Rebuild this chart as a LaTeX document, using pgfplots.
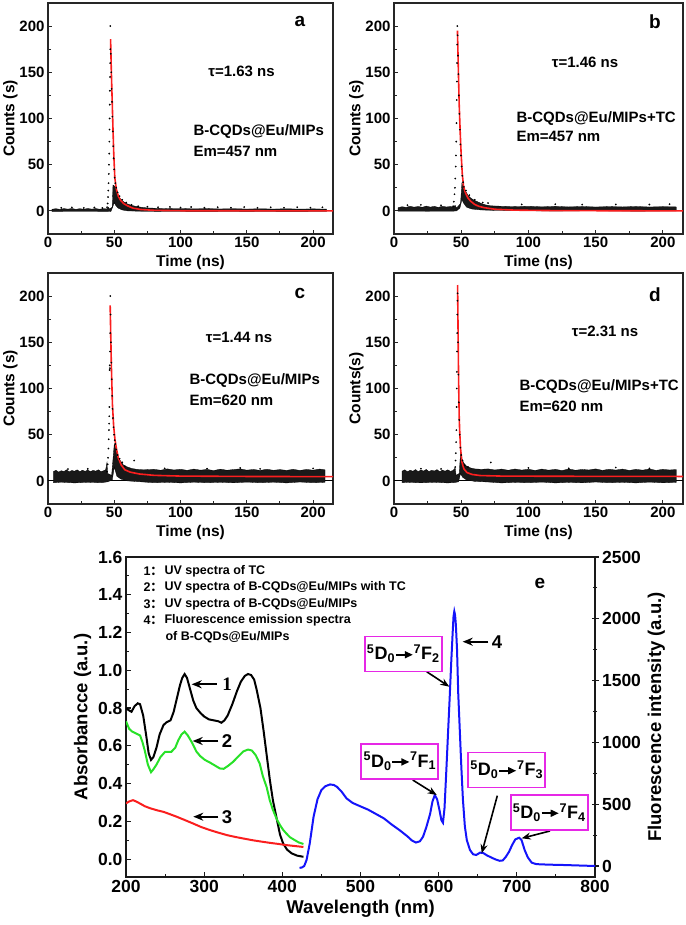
\documentclass[border=0pt]{standalone}
\usepackage{fontspec}
\setmainfont{Liberation Sans}
\newfontfamily\seriffont{Liberation Serif}
\newfontfamily\cjk{Noto Sans CJK SC}
\usepackage{pgfplots}
\pgfplotsset{compat=1.18}
\usetikzlibrary{arrows.meta}

\definecolor{mag}{RGB}{230,40,230}
\definecolor{fitred}{RGB}{250,30,30}
\definecolor{uvgreen}{RGB}{40,225,40}
\definecolor{flblue}{RGB}{20,20,250}

\newcommand{\trarr}{\tikz[baseline=-0.55ex]\draw[line width=1.6pt,-{Triangle[length=8pt,width=7pt]}] (0,0) -- (17pt,0);}
\newcommand{\trans}[1]{\textsuperscript{5}D\textsubscript{0}\trarr\textsuperscript{7}F\textsubscript{#1}}

\pgfplotsset{
  decay/.style={
    scale only axis, anchor=south west, height=231pt,
    xmin=0, xmax=215, ymin=-25, ymax=225,
    xtick={0,50,...,200}, ytick={0,50,...,200}, minor tick num=1,
    tick align=inside, xtick pos=bottom, ytick pos=left,
    axis line style={line width=1.6pt, black!85},
    major tick length=4pt, minor tick length=2.5pt,
    tick style={black!85, line width=1pt},
    tick label style={font=\fontsize{15}{16}\selectfont\bfseries},
    /pgf/number format/assume math mode=true,
    label style={font=\fontsize{15.5}{17}\selectfont\bfseries},
    xlabel={Time (ns)}, ylabel={Counts (s)}, ylabel shift=-5pt,
  },
  noise/.style={fill=black!90, draw=black, line width=0.3pt},
  dots/.style={only marks, mark=*, mark size=0.65pt, black},
  fit/.style={fitred, line width=1.6pt, no marks},
}

\begin{document}
\begin{tikzpicture}
\useasboundingbox (0,0) rectangle (685pt,925pt);

% ---------- a ----------
\begin{axis}[decay, at={(48pt,691pt)}, width=285pt]
\addplot[noise] coordinates {(3,1.8)(6,2.4)(9,1.6)(12,2.5)(15,1.9)(18,2.6)(21,1.7)(24,2.4)(27,1.8)(30,2.6)(33,1.9)(36,2.5)(39,1.8)(42,2.4)(44.5,2.2)(45.5,4)(46.2,2)(48.5,4)(49,28)(50,27)(51,25)(52,21)(53,17)(54,14)(56,11)(58,9)(60,7.5)(63,6)(66,5)(70,4)(75,3.2)(82,2.8)(90,2.4)(100,2.6)(110,2.2)(120,2.5)(130,2.1)(140,2.4)(150,2)(160,2.3)(170,2)(180,2.3)(190,1.9)(200,2.2)(210,1.9)
 (210,-0.6)(180,-0.5)(150,-0.7)(120,-0.5)(90,-0.6)(70,-0.4)(60,0)(56,1)(53,3)(51,6)(50,9)(49,5)(47.5,-0.5)(45,-0.7)(25,-0.6)(3,-0.7)} -- cycle;
\addplot[dots] coordinates {(44.6,4)(45,8)(45.3,15)(45.5,22)(45.7,30)(45.9,40)(46,50)(46.2,62)(46.3,75)(46.4,88)(46.5,100)(46.6,115)(46.7,130)(46.8,145)(46.9,160)(47,175)(47,200)(47.4,170)(47.7,150)(48,132)(48.3,118)(48.6,102)(48.9,86)(49.2,70)(49.5,57)(49.9,45)(50.3,36)(50.8,30)(51.5,25)(52.5,20)(54,16)(56,12)(59,9)(63,6.5)(68,5)(75,4.5)(83,4)(92,4.3)(100,3.6)(108,4.2)(118,3.5)(128,4)(138,3.4)(148,4.1)(158,3.3)(168,3.9)(178,3.4)(188,4)(198,3.5)(207,3.9)(10,3.3)(18,3.8)(27,3.2)(35,3.7)(41,3.1)};
\addplot[fit] coordinates {(47.2,186)(47.8,150)(48.4,120)(49.0,90)(49.6,62)(50.4,36)(51.5,24)(53,16)(54.5,12)(57,8)(60,5.5)(64,3)(70,1.5)(80,0.6)(100,0.2)(215,0)};
\end{axis}

% ---------- b ----------
\begin{axis}[decay, at={(394pt,691pt)}, width=289pt]
\addplot[noise] coordinates {(3,3.5)(6,4.5)(9,3.8)(12,5)(15,4)(18,4.8)(21,3.9)(24,5.2)(27,4.1)(30,4.9)(33,3.8)(36,5)(39,4.2)(42,4.8)(44,4)(45.5,6)(46.5,3)(49.5,8)(50.5,30)(51.5,26)(53,22)(55,17)(57,14)(59,12)(62,10)(65,8)(68,6.5)(72,5.5)(80,5)(90,4.6)(100,5)(110,4.4)(120,4.9)(130,4.3)(140,4.8)(150,4.2)(160,4.7)(170,4.3)(180,4.8)(190,4.2)(200,4.6)(210,4.3)
 (210,0)(180,-0.3)(150,0.2)(120,-0.2)(90,0.3)(75,0.5)(65,1)(58,2)(54,4)(52,8)(50.5,12)(49,3)(46.5,0)(44,-0.3)(25,-0.4)(3,-0.3)} -- cycle;
\addplot[dots] coordinates {(44,5)(44.5,10)(45,18)(45.3,25)(45.6,35)(45.9,48)(46.1,60)(46.3,75)(46.5,95)(46.7,120)(46.8,140)(46.9,160)(47,180)(47.1,200)(47.3,190)(47.6,168)(47.9,148)(48.2,125)(48.6,105)(49,88)(49.4,72)(49.8,60)(50.3,48)(50.8,38)(51.4,31)(52,26)(53.5,22)(56,17)(60,12)(66,9)(70,8.5)(95,7)(120,7.2)(140,6.8)(165,7)(190,6.9)(205,7.3)(20,6.5)(35,6)(10,6.2)};
\addplot[fit] coordinates {(47.2,195)(47.6,170)(48,145)(48.5,115)(49.3,83)(50,60)(50.8,40)(51.7,27)(53,20)(55,14)(57,10.5)(60,7)(63,5)(67,3.5)(75,1.8)(90,0.8)(120,0.3)(215,0)};
\end{axis}

% ---------- c ----------
\begin{axis}[decay, at={(48pt,421pt)}, width=285pt]
\addplot[black, line width=1pt] coordinates {(0,0)(215,0)};
\addplot[noise] coordinates {(4,10)(6,11.5)(8,9.5)(10,11)(12,10.2)(14,12)(16,9.8)(18,11.3)(20,10.4)(22,12)(24,9.9)(26,11.6)(28,10.3)(30,11.8)(32,10)(34,11.4)(36,10.5)(38,12)(40,10)(42,11)(43.5,12)(44.5,20)(45,8)(48,6)(50,40)(51,36)(52,30)(53,25)(55,21)(57,17)(60,15)(63,13.5)(67,12.5)(72,12)(80,12.5)(85,11.5)(90,13)(95,11.8)(100,12.6)(105,11.4)(110,12.8)(115,11.6)(120,12.4)(125,11.2)(130,12.7)(135,11.5)(140,12.3)(145,13)(150,11.6)(155,12.4)(160,11.3)(165,12.6)(170,11.5)(175,12.2)(180,11.4)(185,12.5)(190,11.3)(195,12.4)(200,11.6)(205,12.8)(209,12)
 (209,-1.5)(200,-2)(190,-1.2)(180,-2.2)(170,-1.4)(160,-2)(150,-1.3)(140,-2.1)(130,-1.5)(120,-2)(110,-1.4)(100,-2.2)(90,-1.5)(80,-2)(70,-1)(60,0)(55,2)(52,5)(50,15)(48.5,1)(45,-1)(40,-2)(30,-1.5)(20,-2.2)(10,-1.4)(4,-2)} -- cycle;
\addplot[dots] coordinates {(44.5,10)(45,18)(45.3,25)(45.6,35)(45.8,45)(46,55)(46.1,62)(46.2,70)(46.3,80)(46.4,100)(46.5,120)(46.6,125)(46.7,122)(46.8,140)(46.9,160)(47,200)(47.2,180)(47.5,150)(47.8,128)(48.1,110)(48.4,92)(48.7,78)(49,68)(49.4,58)(49.8,50)(50.3,44)(50.8,40)(51.5,34)(52.5,28)(54,24)(56,20)(58,16)(65,22)(88,13.5)(120,13.2)(145,14)(160,13)(200,13.5)(30,13)(15,12.8)};
\addplot[fit] coordinates {(46.9,190)(47.3,160)(47.8,125)(48.6,83)(49.5,60)(50.5,45)(51.6,35)(53,25)(55.3,17)(58,12)(62,9.5)(68.8,7.5)(80,6)(100,5.2)(150,4.8)(215,4.6)};
\end{axis}

% ---------- d ----------
\begin{axis}[decay, at={(394pt,421pt)}, width=289pt, ylabel={Counts(s)}]
\addplot[black, line width=1pt] coordinates {(0,0)(215,0)};
\addplot[noise] coordinates {(6,10.5)(8,12)(10,9.8)(12,11.6)(14,10.4)(16,12.3)(18,10)(20,11.8)(22,10.6)(24,12.4)(26,10.1)(28,11.5)(30,10.7)(32,12.2)(34,9.9)(36,11.7)(38,10.5)(40,12)(42,10.3)(44,11.4)(45.5,14)(46.2,6)(48.5,8)(49.5,30)(50.5,24)(52,19)(54,16)(57,14)(60,13)(65,12.5)(70,13)(75,11.8)(80,12.8)(85,11.5)(90,12.9)(95,11.7)(100,12.6)(105,11.3)(110,12.8)(115,11.6)(120,12.5)(125,11.2)(130,12.9)(135,11.5)(140,12.4)(145,11.8)(150,13)(155,11.4)(160,12.6)(165,11.7)(170,12.8)(175,11.3)(180,12.5)(185,11.6)(190,12.9)(195,11.4)(200,12.5)(205,11.8)(210,12.3)
 (210,-1.6)(200,-2.1)(190,-1.3)(180,-2.2)(170,-1.5)(160,-2)(150,-1.2)(140,-2.1)(130,-1.6)(120,-2.2)(110,-1.3)(100,-2)(90,-1.6)(80,-2.2)(70,-1.2)(60,-0.5)(54,1)(51,4)(49.5,8)(48,-1)(45,-1.8)(40,-2.2)(30,-1.5)(20,-2.1)(10,-1.5)(6,-2)} -- cycle;
\addplot[dots] coordinates {(45.5,15)(45.8,22)(46,30)(46.2,42)(46.4,55)(46.6,80)(46.7,100)(46.8,118)(46.9,140)(47,160)(47.1,180)(47.2,195)(47.3,203)(47.6,150)(47.9,115)(48.2,85)(48.5,66)(48.9,50)(49.4,36)(50,28)(51,22)(52.5,17)(55,15)(72,20)(100,14)(130,13.5)(165,14.5)(190,13.5)(20,13.2)(35,13)};
\addplot[fit] coordinates {(47.3,212)(47.6,170)(47.9,130)(48.2,95)(48.5,70)(48.8,56)(49.5,35)(50.6,20)(52,13)(54.3,9)(58,7)(64,5.8)(80,5.2)(120,5)(215,4.8)};
\end{axis}

% ---------- e ----------
\begin{axis}[scale only axis, anchor=south west, at={(126pt,48pt)},
  width=469pt, height=320pt,
  xmin=200, xmax=800, ymin=-0.095, ymax=1.6,
  xtick={200,300,...,800}, ytick={0,0.2,0.4,0.6,0.8,1.0,1.2,1.4,1.6},
  minor tick num=1, tick align=inside, xtick pos=bottom, ytick pos=left,
  axis line style={line width=1.9pt, black!90},
  major tick length=5pt, minor tick length=3pt,
  tick style={black!90, line width=1.1pt},
  tick label style={font=\fontsize{17.5}{18}\selectfont\bfseries},
  yticklabel style={/pgf/number format/.cd, fixed, fixed zerofill, precision=1},
  /pgf/number format/assume math mode=true,
  label style={font=\fontsize{18.5}{20}\selectfont\bfseries},
  xlabel={Wavelength (nm)}, ylabel={Absorbancce (a.u.)},
]
\addplot[black, line width=2pt] coordinates {(200,0.80)(203,0.79)(207,0.78)(211,0.81)(215,0.825)(218,0.82)(222,0.76)(226,0.65)(229,0.56)(232,0.525)(235,0.54)(239,0.59)(243,0.66)(248,0.71)(252,0.725)(257,0.735)(261,0.78)(265,0.85)(269,0.92)(272,0.96)(275,0.98)(278,0.96)(282,0.90)(286,0.84)(290,0.80)(295,0.775)(300,0.755)(306,0.74)(312,0.735)(318,0.73)(322,0.722)(326,0.735)(330,0.76)(336,0.82)(342,0.89)(347,0.94)(352,0.97)(356,0.98)(360,0.975)(364,0.95)(367,0.90)(372,0.80)(376,0.68)(380,0.55)(384,0.42)(388,0.31)(393,0.21)(397,0.13)(401,0.083)(406,0.05)(412,0.03)(419,0.018)(427,0.012)};
\addplot[uvgreen, line width=2pt] coordinates {(200,0.73)(204,0.69)(208,0.675)(213,0.665)(218,0.655)(221,0.62)(224,0.575)(228,0.50)(232,0.46)(235,0.475)(239,0.50)(244,0.54)(250,0.568)(258,0.568)(263,0.59)(267,0.63)(271,0.66)(275,0.675)(279,0.655)(284,0.62)(290,0.57)(295,0.545)(301,0.525)(307,0.512)(314,0.495)(320,0.48)(325,0.478)(331,0.495)(337,0.515)(344,0.545)(350,0.57)(356,0.58)(361,0.575)(366,0.55)(371,0.506)(375,0.44)(380,0.38)(384,0.31)(388,0.26)(393,0.21)(397,0.18)(401,0.155)(405,0.136)(410,0.115)(416,0.10)(421,0.088)(427,0.08)};
\addplot[fitred, line width=2pt] coordinates {(200,0.295)(204,0.305)(209,0.312)(213,0.305)(218,0.294)(224,0.28)(231,0.269)(240,0.258)(248,0.25)(256,0.238)(265,0.224)(275,0.207)(286,0.188)(296,0.17)(307,0.154)(318,0.14)(329,0.127)(340,0.117)(350,0.109)(363,0.099)(374,0.092)(384,0.086)(395,0.08)(405,0.074)(416,0.069)(427,0.064)};
\end{axis}

\begin{axis}[scale only axis, anchor=south west, at={(126pt,48pt)},
  width=469pt, height=320pt,
  xmin=200, xmax=800, ymin=-89, ymax=2500,
  axis x line=none, axis y line*=right,
  ytick={0,500,...,2500}, minor tick num=1, tick align=center,
  scaled y ticks=false,
  yticklabel style={/pgf/number format/1000 sep={}},
  axis line style={line width=1.9pt, black!90},
  major tick length=7pt, minor tick length=4pt,
  tick style={black!90, line width=1.1pt},
  tick label style={font=\fontsize{17.5}{18}\selectfont\bfseries},
  /pgf/number format/assume math mode=true,
  label style={font=\fontsize{18.5}{20}\selectfont\bfseries},
  ylabel={Fluorescence intensity (a.u.)},
]
\addplot[flblue, line width=2pt] coordinates {(422,-15)(425,-12)(428,0)(431,49)(435,180)(440,400)(445,540)(450,615)(455,645)(461,660)(466,655)(470,640)(476,600)(482,548)(490,510)(499,485)(510,455)(520,420)(530,385)(540,335)(550,290)(560,240)(566,205)(571,190)(576,200)(580,237)(584,310)(589,420)(592,520)(595,574)(598,540)(601,453)(603.5,370)(605.5,350)(607.5,470)(610,800)(612,1080)(614,1350)(616,1640)(618,1900)(619,2020)(620,2060)(621,2030)(622,1950)(623.5,1750)(625,1400)(627,1100)(629,800)(631,540)(633.5,320)(636,210)(640,130)(644,95)(648,89)(653,108)(657,105)(662,85)(667,70)(672,55)(678,42)(682,45)(686,75)(690,115)(694,170)(698,215)(703,229)(706,210)(710,129)(714,70)(719,27)(725,15)(740,11)(760,8)(780,4)(800,0)};
\end{axis}

% ---------- panel texts a-d ----------
\begin{scope}[every node/.style={font=\fontsize{15}{17}\selectfont\bfseries}]
\node at (241.5pt,854pt) {τ=1.63 ns};
\node[anchor=west] at (190pt,793pt) {B-CQDs@Eu/MIPs};
\node[anchor=west] at (190pt,774pt) {Em=457 nm};
\node at (585pt,863pt) {τ=1.46 ns};
\node[anchor=west] at (513pt,806.7pt) {B-CQDs@Eu/MIPs+TC};
\node[anchor=west] at (513pt,788.3pt) {Em=457 nm};
\node at (239pt,587.7pt) {τ=1.44 ns};
\node[anchor=west] at (186pt,544pt) {B-CQDs@Eu/MIPs};
\node[anchor=west] at (186pt,524.3pt) {Em=620 nm};
\node at (605pt,594pt) {τ=2.31 ns};
\node[anchor=west] at (516pt,538.3pt) {B-CQDs@Eu/MIPs+TC};
\node[anchor=west] at (516pt,518.3pt) {Em=620 nm};
\end{scope}
\begin{scope}[every node/.style={font=\fontsize{19}{20}\selectfont\bfseries}]
\node at (300pt,904pt) {a};
\node at (655pt,903.3pt) {b};
\node at (300pt,631.7pt) {c};
\node at (655pt,630pt) {d};
\node at (540pt,341.7pt) {e};
\end{scope}

% ---------- panel e notes ----------
\begin{scope}[every node/.style={font=\fontsize{12.5}{14}\selectfont\bfseries}]
\node[anchor=west] at (140pt,353.3pt) {1\cjk{：}};
\node[anchor=west] at (161pt,353.3pt) {UV spectra of TC};
\node[anchor=west] at (140pt,337.3pt) {2\cjk{：}};
\node[anchor=west] at (161pt,337.3pt) {UV spectra of B-CQDs@Eu/MIPs with TC};
\node[anchor=west] at (140pt,321pt) {3\cjk{：}};
\node[anchor=west] at (161pt,321pt) {UV spectra of B-CQDs@Eu/MIPs};
\node[anchor=west] at (140pt,305pt) {4\cjk{：}};
\node[anchor=west] at (161pt,305pt) {Fluorescence emission spectra};
\node[anchor=west] at (162pt,287.7pt) {of B-CQDs@Eu/MIPs};
\end{scope}

\begin{scope}[line width=1.8pt, -{Stealth[length=10pt,width=8pt]}]
\draw (216.7pt,240.7pt) -- (191.7pt,240.7pt);
\draw (218.3pt,184pt) -- (192.7pt,184pt);
\draw (218.3pt,108.3pt) -- (193.3pt,108.3pt);
\draw (488.3pt,283.3pt) -- (462.7pt,283.3pt);
\end{scope}
\begin{scope}[line width=1.6pt, -{Stealth[length=9pt,width=7pt]}]
\draw (426.7pt,253.3pt) -- (449.3pt,238.3pt);
\draw (412.7pt,145pt) -- (436.7pt,130pt);
\draw (497.3pt,129.3pt) -- (481.7pt,71.7pt);
\draw (550pt,94pt) -- (521.7pt,86.7pt);
\end{scope}
\node[font=\fontsize{19}{20}\selectfont\bfseries\seriffont] at (227pt,240.7pt) {1};
\node[font=\fontsize{18.5}{20}\selectfont\bfseries] at (227pt,184pt) {2};
\node[font=\fontsize{18.5}{20}\selectfont\bfseries] at (227pt,108.3pt) {3};
\node[font=\fontsize{18.5}{20}\selectfont\bfseries] at (497pt,283.3pt) {4};

\begin{scope}[every node/.style={draw=mag, line width=1.9pt, minimum width=77pt, minimum height=35pt, inner sep=1pt, font=\fontsize{18}{18}\selectfont\bfseries}]
\node at (403.3pt,271pt) {\trans{2}};
\node at (399.9pt,163.8pt) {\trans{1}};
\node at (506.7pt,155pt) {\trans{3}};
\node at (549.2pt,112.5pt) {\trans{4}};
\end{scope}
\end{tikzpicture}
\end{document}
